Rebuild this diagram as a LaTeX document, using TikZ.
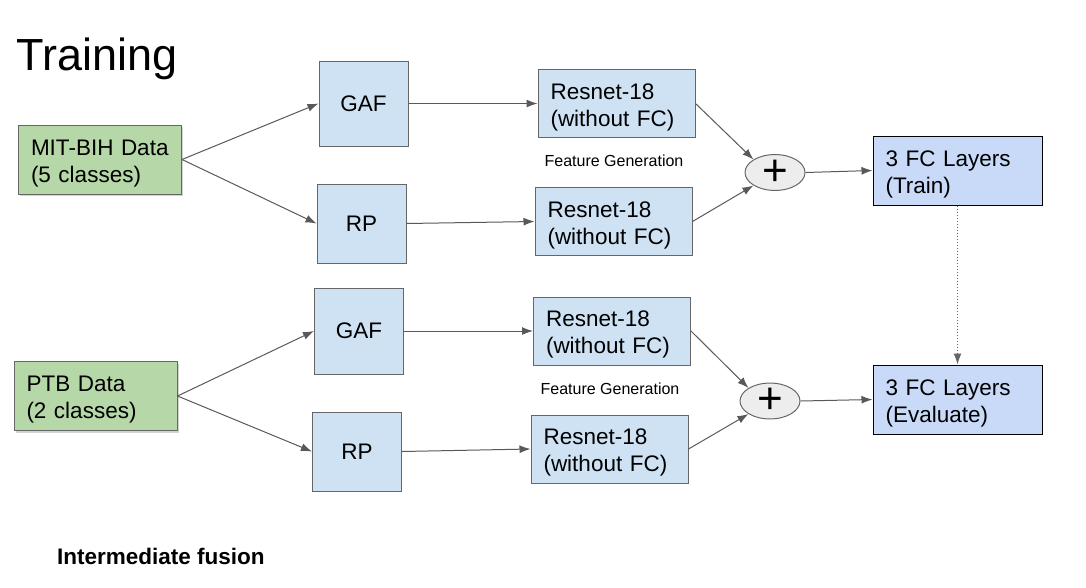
\documentclass[tikz,border=0pt]{standalone}
\usepackage{fontspec}
\setmainfont{Liberation Sans}
\usepackage{tikz}
\usetikzlibrary{arrows.meta,shapes,positioning,shadows}
\definecolor{datagreen}{HTML}{B6D7A8}
\definecolor{imgblue}{HTML}{CFE2F3}
\definecolor{fcblue}{HTML}{C9DAF8}
\definecolor{edgegray}{HTML}{666666}
\definecolor{linegray}{HTML}{595959}
% pads the first line so that two-line texts sit a little lower
\newcommand{\toppad}{\rule{0pt}{23pt}}
\tikzset{
  basic/.style  = {draw=edgegray, line width=1pt, rectangle, inner xsep=12.5pt, inner ysep=0pt,
                   font=\fontsize{22.5}{27}\selectfont},
  data/.style   = {basic, fill=datagreen, align=left, text width=138pt,
                   minimum height=69pt,
                   drop shadow={opacity=0.35, shadow xshift=1.5pt, shadow yshift=-2pt}},
  img/.style    = {basic, fill=imgblue, align=center, inner xsep=0pt, minimum width=89pt},
  net/.style    = {basic, fill=imgblue, align=left, text width=132pt, minimum height=68pt},
  fc/.style     = {basic, draw=black, fill=fcblue, align=left, text width=144pt, minimum height=69pt},
  fuse/.style   = {draw=edgegray, line width=1pt, ellipse, fill=black!7, inner sep=0pt,
                   minimum width=60pt, minimum height=35pt, font=\fontsize{44}{44}\selectfont},
  note/.style   = {font=\fontsize{16}{19}\selectfont},
  conn/.style   = {->, line width=1pt, draw=linegray}
}

\begin{document}
\begin{tikzpicture}[x=1pt, y=-1pt,
  >={Latex[length=11pt,width=8pt]}]
\useasboundingbox (0,0) rectangle (1086,587);

% titles
\node[anchor=base west, inner sep=0pt, font=\fontsize{45}{50}\selectfont] (title) at (16,70) {Training};
\node[anchor=west, inner sep=0pt, font=\bfseries\fontsize{22.5}{26}\selectfont] (fusion) at (57,556) {Intermediate fusion};

% upper branch: MIT-BIH
\node[data] (mit) at (100,159.5) {\toppad MIT-BIH Data\\(5 classes)};
\node[img, minimum height=85pt] (gaf1) at (363.5,103.5) {GAF};
\node[img, minimum height=79pt] (rp1) at (361.5,223.5) {RP};
\node[net] (res1a) at (616.5,103.5) {\toppad Resnet-18\\(without FC)};
\node[net] (res1b) at (613.5,221.5) {\toppad Resnet-18\\(without FC)};
\node[note] (feat1) at (614,161) {Feature Generation};
\node[fuse] (plus1) at (775,172.5) {\raisebox{-2pt}{+}};
\node[fc] (fc1) at (957.5,170.5) {\toppad 3 FC Layers\\(Train)};

% lower branch: PTB
\node[data] (ptb) at (95.5,396) {\toppad PTB Data\\(2 classes)};
\node[img, minimum height=86pt] (gaf2) at (359,331) {GAF};
\node[img, minimum height=79pt] (rp2) at (357,451.5) {RP};
\node[net] (res2a) at (612,331) {\toppad Resnet-18\\(without FC)};
\node[net] (res2b) at (609.5,449) {\toppad Resnet-18\\(without FC)};
\node[note] (feat2) at (610,389) {Feature Generation};
\node[fuse] (plus2) at (770,401) {\raisebox{-2pt}{+}};
\node[fc] (fc2) at (957.5,399.5) {\toppad 3 FC Layers\\(Evaluate)};

% connectors
\draw[conn] (mit.east) -- (gaf1.west);
\draw[conn] (mit.east) -- (rp1.west);
\draw[conn] (gaf1.east) -- (res1a.west);
\draw[conn] (rp1.east) -- (res1b.west);
\draw[conn] (res1a.east) -- (plus1.north west);
\draw[conn] (res1b.east) -- (plus1.south west);
\draw[conn] (plus1.east) -- (fc1.west);

\draw[conn] (ptb.east) -- (gaf2.west);
\draw[conn] (ptb.east) -- (rp2.west);
\draw[conn] (gaf2.east) -- (res2a.west);
\draw[conn] (rp2.east) -- (res2b.west);
\draw[conn] (res2a.east) -- (plus2.north west);
\draw[conn] (res2b.east) -- (plus2.south west);
\draw[conn] (plus2.east) -- (fc2.west);

% trained layers reused for evaluation
\draw[conn, dotted, draw=edgegray] (fc1.south) -- (fc2.north);
\end{tikzpicture}
\end{document}
